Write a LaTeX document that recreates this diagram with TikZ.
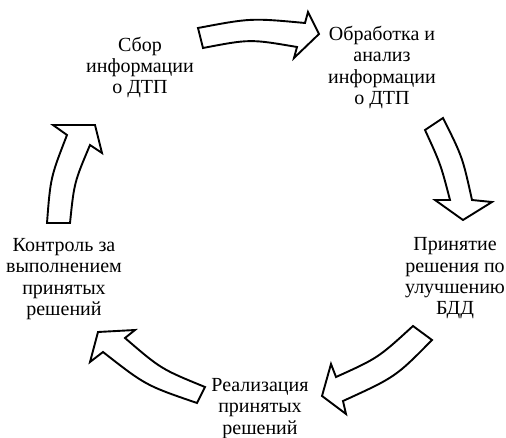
\documentclass[tikz,border=0pt]{standalone}
\usepackage{fontspec}
\setmainfont{Liberation Serif}
\begin{document}
\begin{tikzpicture}[x=1pt,y=-1pt,
  blockarrow/.style={draw=black, fill=white, line width=1.9pt, line join=miter},
  lbl/.style={align=center, inner sep=0pt, font=\fontsize{20}{21.3}\selectfont}]
\useasboundingbox (0,0) rectangle (506,438);

% labels
\node[lbl] (sbor) at (140,67.5) {Сбор\\информации\\о ДТП};
\node[lbl] (obr)  at (382,67.5) {Обработка и\\анализ\\информации\\о ДТП};
\node[lbl] (prin) at (455,278.5) {Принятие\\решения по\\улучшению\\БДД};
\node[lbl] (real) at (260,408.5) {Реализация\\принятых\\решений};
\node[lbl] (kontr) at (64,279) {Контроль за\\выполнением\\принятых\\решений};

% block arrows
\draw[blockarrow] (198,28) .. controls (251,18) .. (305,23) -- (308,12) -- (319,34)
  -- (294,58) -- (297,47) .. controls (250,39) .. (203,48) -- cycle;
\draw[blockarrow] (425,130) -- (443,118) .. controls (462.5,157) .. (472,200) -- (492,202)
  -- (463,220) -- (435,200) -- (450,200) .. controls (440.6,164) .. (425,130) -- cycle;
\draw[blockarrow] (413,326) .. controls (378,358) .. (336,377) -- (331,364) -- (322,396)
  -- (346,414) -- (343,401) .. controls (395.5,377) .. (432,340) -- cycle;
\draw[blockarrow] (205,387) .. controls (161,369) .. (125,338) -- (135,330) -- (98,332)
  -- (90,362) -- (103,352) .. controls (145.7,385.4) .. (197,403) -- cycle;
\draw[blockarrow] (47,223) .. controls (50.5,177.5) .. (67,135) -- (53,125) -- (95,125)
  -- (102,153) -- (90,145) .. controls (74.2,182.5) .. (70,223) -- cycle;
\end{tikzpicture}
\end{document}
